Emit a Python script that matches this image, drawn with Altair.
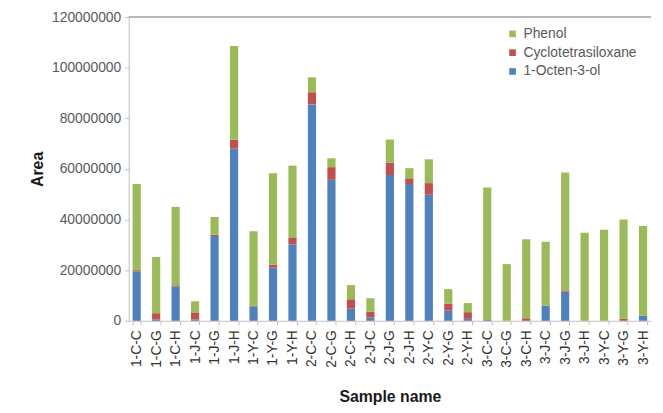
import altair as alt
import pandas as pd

samples = ["1-C-C", "1-C-G", "1-C-H", "1-J-C", "1-J-G", "1-J-H", "1-Y-C", "1-Y-G", "1-Y-H",
           "2-C-C", "2-C-G", "2-C-H", "2-J-C", "2-J-G", "2-J-H", "2-Y-C", "2-Y-G", "2-Y-H",
           "3-C-C", "3-C-G", "3-C-H", "3-J-C", "3-J-G", "3-J-H", "3-Y-C", "3-Y-G", "3-Y-H"]

# values in millions
octenol = [19.5, 0.5, 13.5, 0.5, 33.5, 68.0, 5.7, 21.0, 30.2,
           85.5, 55.7, 4.8, 1.3, 57.6, 54.0, 49.8, 4.0, 0.8,
           0.3, 0.0, 0.0, 6.0, 11.5, 0.0, 0.0, 0.0, 2.0]
cyclo = [0.5, 2.5, 0.5, 2.8, 0.5, 3.5, 0.3, 1.2, 2.5,
         4.8, 5.0, 3.7, 2.3, 4.9, 2.3, 4.6, 2.7, 2.6,
         0.0, 0.0, 1.0, 0.0, 0.5, 0.0, 0.0, 0.8, 0.0]
phenol = [34.0, 22.2, 31.0, 4.4, 7.0, 37.1, 29.4, 36.1, 28.6,
          5.9, 3.5, 5.6, 5.3, 9.1, 4.0, 9.4, 5.8, 3.6,
          52.4, 22.4, 31.2, 25.2, 46.6, 34.8, 36.0, 39.2, 35.4]

series_names = ["Phenol", "Cyclotetrasiloxane", "1-Octen-3-ol"]
series_colors = ["#9BBB59", "#C0504D", "#4F81BD"]
stack_rank = {"1-Octen-3-ol": 0, "Cyclotetrasiloxane": 1, "Phenol": 2}

y_ticks = [0, 20000000, 40000000, 60000000, 80000000, 100000000, 120000000]

rows = []
for name, vals in [("1-Octen-3-ol", octenol), ("Cyclotetrasiloxane", cyclo), ("Phenol", phenol)]:
    for s, v in zip(samples, vals):
        rows.append({"sample": s, "compound": name, "area": v * 1e6, "rank": stack_rank[name]})
df = pd.DataFrame(rows)

FONT = "Liberation Sans"

bars = alt.Chart(df).mark_bar().encode(
    x=alt.X("sample:N", sort=samples,
            scale=alt.Scale(paddingInner=0.58, paddingOuter=0.2),
            axis=alt.Axis(title="Sample name", labelAngle=-90, labelFontSize=14,
                          labelColor="#333333", labelFont=FONT, labelPadding=5,
                          tickBand="extent", tickSize=4, tickColor="#bfbfbf",
                          domainColor="#bfbfbf", titleFont=FONT, titleFontSize=16,
                          titleFontWeight="bold", titleColor="#1a1a1a",
                          titleBaseline="middle", titleY=77)),
    y=alt.Y("area:Q", stack="zero",
            scale=alt.Scale(domain=[0, 120000000], nice=False),
            axis=alt.Axis(title="Area", values=y_ticks, format="d", grid=False,
                          labelFontSize=14, labelColor="#595959", labelFont=FONT,
                          tickSize=4, tickColor="#bfbfbf", labelPadding=4,
                          domainColor="#bfbfbf", titleFont=FONT, titleFontSize=16,
                          titleFontWeight="bold", titleColor="#1a1a1a",
                          titleBaseline="middle", titleX=-92)),
    color=alt.Color("compound:N",
                    scale=alt.Scale(domain=series_names, range=series_colors),
                    legend=alt.Legend(title=None, orient="none", legendX=381, legendY=10,
                                      symbolType="square", symbolSize=45,
                                      labelFontSize=14, labelColor="#595959",
                                      labelFont=FONT, rowPadding=5, symbolStrokeWidth=0)),
    order=alt.Order("rank:Q", sort="ascending"),
)

top_line = alt.Chart(pd.DataFrame({"v": [y_ticks[-1]]})).mark_rule(
    color="#a0a0a0", strokeWidth=1.5
).encode(y=alt.Y("v:Q"))

chart = alt.layer(bars, top_line).properties(
    width=528, height=307,
    autosize=alt.AutoSizeParams(type="none"),
    padding={"left": 122, "top": 7, "right": 4, "bottom": 85},
    background="white",
).configure_view(stroke=None)

chart.save("out.html", embed_options={"renderer": "svg", "actions": False})
